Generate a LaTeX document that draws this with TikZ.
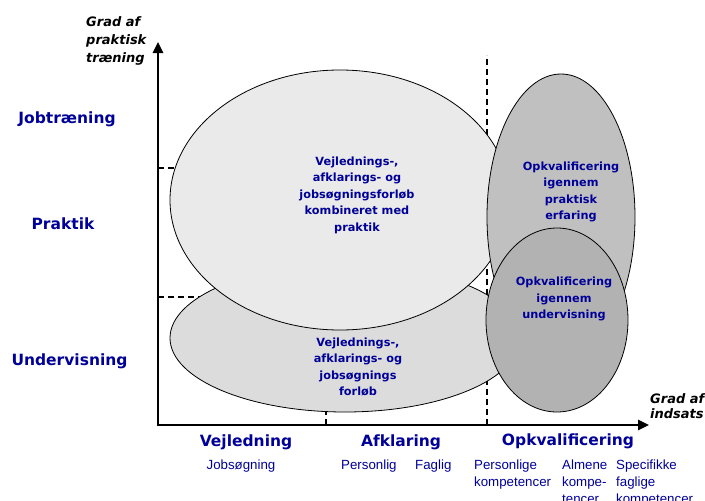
\documentclass[tikz,border=0pt]{standalone}
\usepackage{fontspec}
\usetikzlibrary{shapes.geometric}
\usetikzlibrary{arrows.meta}
\newfontfamily\verdanafont{DejaVu Sans}
\newfontfamily\arialfont{Liberation Sans}
\definecolor{labelblue}{RGB}{0,0,153}
\definecolor{fillA}{RGB}{234,234,234}
\definecolor{fillB}{RGB}{220,220,220}
\definecolor{fillC}{RGB}{192,192,192}
\definecolor{fillD}{RGB}{178,178,178}

\begin{document}
\begin{tikzpicture}[x = 1pt, y = -1pt]
\tikzstyle{ellipseStyle} = [shape = ellipse, draw, line width = 0.8pt, inner sep = 0pt]
\tikzstyle{innerText} = [text = labelblue, align = center, inner sep = 0pt, font = \verdanafont\bfseries\fontsize{11.3}{16.5}\selectfont]
\tikzstyle{levelLabel} = [text = labelblue, anchor = base, inner sep = 0pt, font = \verdanafont\bfseries\fontsize{15.5}{18}\selectfont]
\tikzstyle{subLabel} = [text = labelblue, align = left, anchor = north west, inner sep = 0pt, font = \arialfont\fontsize{13.3}{17}\selectfont]
\tikzstyle{axisLabel} = [align = left, anchor = north west, inner sep = 0pt, font = \verdanafont\bfseries\itshape\fontsize{13}{18}\selectfont]
\tikzstyle{axisStyle} = [line width = 2.5pt, -{Triangle[length = 11pt, width = 10pt]}]
\tikzstyle{guideStyle} = [line width = 1.8pt, dash pattern = on 6pt off 4pt]
\useasboundingbox (0,0) rectangle (705,501);
% guide lines
\draw[guideStyle] (158,168) -- (230,168);
\draw[guideStyle] (158,297) -- (240,297);
\draw[guideStyle] (326,425) -- (326,300);
\draw[guideStyle] (487,425) -- (487,55);
% ellipses
\node[ellipseStyle, fill = fillB, minimum width = 350pt, minimum height = 148pt] (lowerOval) at (345,338) {};
\node[ellipseStyle, fill = fillA, minimum width = 340pt, minimum height = 260pt] (upperOval) at (340,200) {};
\node[ellipseStyle, fill = fillC, minimum width = 148pt, minimum height = 286pt] (tallOval) at (561,217) {};
\node[ellipseStyle, fill = fillD, minimum width = 142pt, minimum height = 184pt] (roundOval) at (557,320) {};
\node[innerText] (upperText) at (357,195) {Vejlednings-,\\afklarings- og\\jobsøgningsforløb\\kombineret med\\praktik};
\node[innerText] (lowerText) at (358,367) {Vejlednings-,\\afklarings- og\\jobsøgnings\\forløb};
\node[innerText] (tallText) at (571,192) {Opkvalificering\\igennem\\praktisk\\erfaring};
\node[innerText] (roundText) at (564,299) {Opkvalificering\\igennem\\undervisning};
% axes
\coordinate (origin) at (157,425);
\coordinate (yTip) at (158,42);
\coordinate (xTip) at (649,425);
\draw[axisStyle] (158,426.25) -- (yTip);
\draw[axisStyle] (origin) -- (xTip);
\node[axisLabel] (yLabel) at (86,16) {Grad af\\praktisk\\træning};
\node[axisLabel, font = \verdanafont\bfseries\itshape\fontsize{13}{15}\selectfont] (xLabel) at (650,393) {Grad af\\indsats};
% levels
\node[levelLabel] (jobtraening) at (67,123) {Jobtræning};
\node[levelLabel] (praktik) at (63,229) {Praktik};
\node[levelLabel] (undervisning) at (69.5,365) {Undervisning};
\node[levelLabel] (vejledning) at (246,446) {Vejledning};
\node[levelLabel] (afklaring) at (401,446) {Afklaring};
\node[levelLabel] (opkval) at (568,445) {Opkvalificering};
\node[subLabel, anchor = base] (jobsoegning) at (241,469) {Jobsøgning};
\node[subLabel, anchor = base west] (personlig) at (341,469) {Personlig};
\node[subLabel, anchor = base west] (faglig) at (415,469) {Faglig};
\node[subLabel] (personlige) at (474,459.3) {Personlige\\kompetencer};
\node[subLabel] (almene) at (562,459.3) {Almene\\kompe-\\tencer};
\node[subLabel] (specifikke) at (616,459.3) {Specifikke\\faglige\\kompetencer};
\end{tikzpicture}
\end{document}
